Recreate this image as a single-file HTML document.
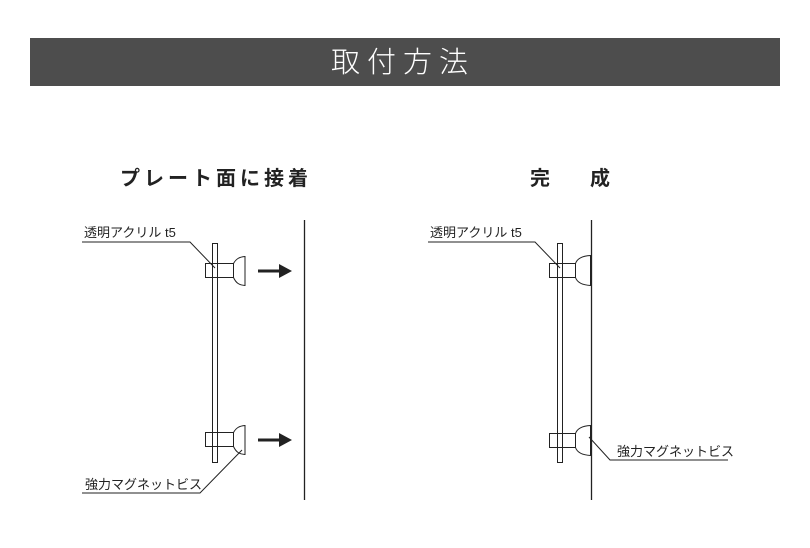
<!DOCTYPE html>
<html><head><meta charset="utf-8"><style>
body{margin:0;width:810px;height:543px;background:#fff;overflow:hidden}
</style></head><body>
<svg width="810" height="543" viewBox="0 0 810 543" xmlns="http://www.w3.org/2000/svg" font-family="'Liberation Sans','Noto Sans CJK JP',sans-serif">
<rect x="30" y="38" width="750" height="48" fill="#4d4d4d"/>
<text x="403" y="72" fill="#fff" font-size="29" text-anchor="middle" letter-spacing="7" font-family="'Noto Sans CJK JP',sans-serif" font-weight="300">取付方法</text>
<text x="120" y="185" font-size="20" font-weight="bold" letter-spacing="4" fill="#222" font-family="'Noto Sans CJK JP',sans-serif">プレート面に接着</text>
<text x="530" y="185" font-size="20" font-weight="bold" fill="#222" font-family="'Noto Sans CJK JP',sans-serif">完</text>
<text x="590" y="185" font-size="20" font-weight="bold" fill="#222" font-family="'Noto Sans CJK JP',sans-serif">成</text>
<g stroke="#222" stroke-width="1" fill="none">
<!-- left -->
<line x1="304.5" y1="220" x2="304.5" y2="500" stroke-width="1.3"/>
<rect x="212.5" y="243.5" width="5" height="219"/>
<rect x="205.5" y="263.5" width="28" height="14"/>
<rect x="205.5" y="432.5" width="28" height="14"/>
<path d="M233.5 263.5 C236 259 239 257 245 256.5 L245 285.5 C239 285 236 283 233.5 277.5 Z"/>
<path d="M233.5 432.5 C236 428 239 426 245 425.5 L245 454.5 C239 454 236 452 233.5 446.5 Z"/>
<polyline points="82,242 190,242 215,268"/>
<polyline points="82,493 200,493 242,450"/>
<!-- right -->
<line x1="591.5" y1="220" x2="591.5" y2="500" stroke-width="1.3"/>
<rect x="557.5" y="243.5" width="5" height="219"/>
<rect x="549.5" y="263.5" width="26" height="14"/>
<rect x="549.5" y="433.5" width="26" height="14"/>
<path d="M575.5 263.5 C577 259 582 256 590.5 255.5 L590.5 285.5 C582 285 577 282 575.5 277.5 Z"/>
<path d="M575.5 433.5 C577 429 582 426 590.5 425.5 L590.5 455.5 C582 455 577 452 575.5 447.5 Z"/>
<polyline points="428,242 535,242 560,268"/>
<polyline points="589,437 610,460 728,460"/>
</g>
<g fill="#222">
<rect x="258" y="269.5" width="22" height="3"/><polygon points="279,264 292,271 279,278"/>
<rect x="258" y="438.5" width="22" height="3"/><polygon points="279,433 292,440 279,447"/>
</g>
<g font-size="13" fill="#222">
<text x="84" y="237">透明アクリル t5</text>
<text x="85" y="489">強力マグネットビス</text>
<text x="430" y="237">透明アクリル t5</text>
<text x="617" y="456">強力マグネットビス</text>
</g>
</svg>
</body></html>
